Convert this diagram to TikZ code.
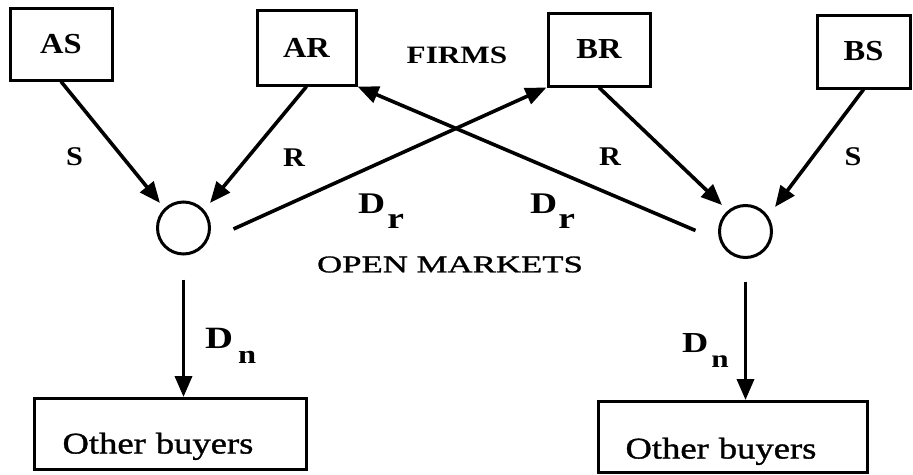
\documentclass[tikz,border=0pt]{standalone}
\usepackage{fontspec}
\setmainfont{Liberation Serif}
\newfontfamily\fwa{Liberation Serif}[FakeStretch=1.12]
\newfontfamily\fwb{Liberation Serif}[FakeStretch=1.25]
\newfontfamily\fmed{Liberation Serif}[FakeStretch=1.22,FakeBold=1.2]
\newfontfamily\fmedc{Liberation Serif}[FakeStretch=1.45,FakeBold=1.2]
\usetikzlibrary{arrows.meta}
\begin{document}
\begin{tikzpicture}[x=1pt,y=-1pt,
  firm/.style={draw,line width=3pt,inner sep=0pt,font=\fwa\bfseries\fontsize{29}{29}\selectfont},
  market/.style={draw,circle,line width=3pt,minimum size=52pt,inner sep=0pt},
  buyer/.style={draw,line width=3pt,anchor=north west,inner xsep=28pt,inner ysep=0pt,
    text width=216pt,align=left,font=\fmed\fontsize{30}{30}\selectfont},
  flow/.style={line width=3.6pt,-{Triangle[length=21pt,width=17pt]}},
  lbl/.style={inner sep=0pt,font=\fwa\bfseries\fontsize{27}{27}\selectfont},
  title/.style={inner sep=0pt},
]
\useasboundingbox (0,0) rectangle (913,474);

% firms
\node[firm,minimum width=102pt,minimum height=72pt] (AS) at (61,44) {AS};
\node[firm,minimum width=99pt,minimum height=75pt] (AR) at (306.5,47.5) {AR};
\node[firm,minimum width=102pt,minimum height=73pt] (BR) at (599,49.5) {BR};
\node[firm,minimum width=93pt,minimum height=73pt] (BS) at (863.5,51.5) {BS};

% markets
\node[market] (lc) at (183.5,228) {};
\node[market] (rc) at (745.5,231.5) {};

% other buyers
\node[buyer,text height=55pt,text depth=16pt] (obl) at (33,397) {Other buyers};
\node[buyer,text height=57pt,text depth=14pt,text width=215pt,inner xsep=27pt] (obr) at (597,400) {Other buyers};

% arrow end points near the markets
\coordinate (lcL) at ([xshift=-23.5pt,yshift=25pt]lc.center);
\coordinate (lcR) at ([xshift=26.5pt,yshift=25pt]lc.center);
\coordinate (rcL) at ([xshift=-23.5pt,yshift=26.5pt]rc.center);
\coordinate (rcR) at ([xshift=29.5pt,yshift=24.5pt]rc.center);

% connectors
\draw[flow] (AS.south) -- (lcL);
\draw[flow] (AR.south) -- (lcR);
\draw[flow] (BR.south) -- (rcL);
\draw[flow] (BS.south) -- (rcR);
\draw[flow] ([xshift=22.5pt,yshift=-1pt]lc.east) -- (BR.south west);
\draw[flow] ([xshift=-22.5pt,yshift=1pt]rc.west) -- (AR.south east);
\draw[flow] ([yshift=-24pt]lc.south) -- (lc |- obl.north);
\draw[flow] ([yshift=-22.5pt]rc.south) -- (rc |- obr.north);

% labels
\node[lbl] (sA) at (74.5,156.5) {S};
\node[lbl] (rA) at (294,157.5) {R};
\node[lbl] (rB) at (610,157) {R};
\node[lbl] (sB) at (853,157) {S};
\node[title,font=\fwb\bfseries\fontsize{25}{25}\selectfont] (firms) at (457,55) {FIRMS};
\node[title,font=\fmedc\fontsize{24}{24}\selectfont] (open) at (450,264.5) {OPEN MARKETS};
\node[title,anchor=base west,font=\fwb\bfseries\fontsize{30}{30}\selectfont] (drl) at (358,213) {D\hspace{2pt}\raisebox{-15pt}{r}};
\node[title,anchor=base west,font=\fwb\bfseries\fontsize{30}{30}\selectfont] (drr) at (530,213) {D\hspace{1pt}\raisebox{-15pt}{r}};
\node[title,anchor=base west,font=\fwb\bfseries\fontsize{31}{31}\selectfont] (dnl) at (205,348) {D\hspace{5pt}\raisebox{-15pt}{\fontsize{26}{26}\selectfont n}};
\node[title,anchor=base west,font=\fwb\bfseries\fontsize{29}{29}\selectfont] (dnr) at (682,352) {D\hspace{3pt}\raisebox{-15pt}{\fontsize{25}{25}\selectfont n}};
\end{tikzpicture}
\end{document}
